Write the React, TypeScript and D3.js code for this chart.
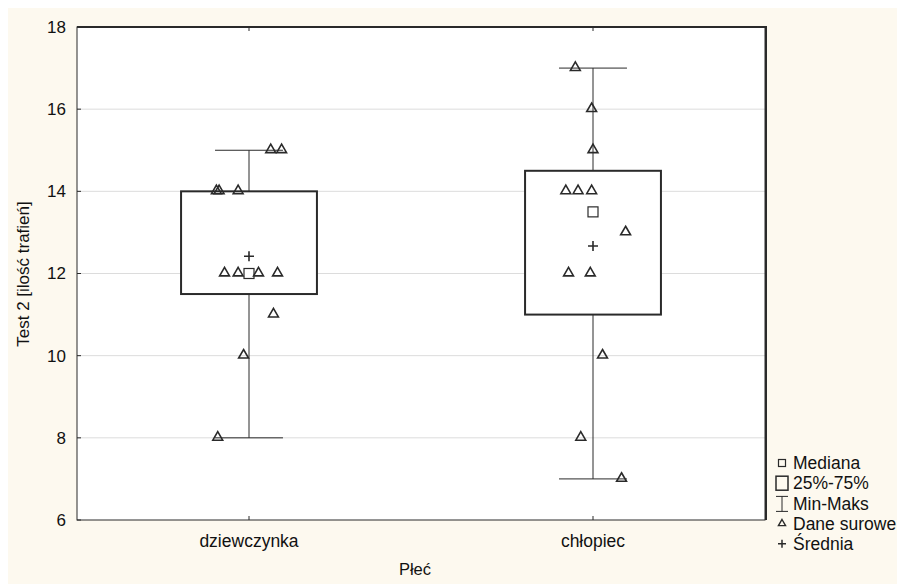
import * as d3 from 'd3';
import React, { useEffect, useRef } from 'react';

interface RawPoint {
  group: string;
  value: number;
  jitter: number;
}

interface GroupStats {
  group: string;
  min: number;
  q1: number;
  median: number;
  q3: number;
  max: number;
  mean: number;
}

const groups = ['dziewczynka', 'chłopiec'];

const girlValues = [15, 15, 14, 14, 14, 12, 12, 12, 12, 11, 10, 8];
const girlJitter = [0.16, 0.24, -0.24, -0.22, -0.08, -0.18, -0.08, 0.07, 0.21, 0.18, -0.04, -0.23];

const boyValues = [17, 16, 15, 14, 14, 14, 13, 12, 12, 10, 8, 7];
const boyJitter = [-0.13, -0.01, 0.0, -0.2, -0.11, -0.01, 0.24, -0.18, -0.02, 0.07, -0.09, 0.21];

const stats: GroupStats[] = [
  { group: 'dziewczynka', min: 8, q1: 11.5, median: 12, q3: 14, max: 15, mean: 12.42 },
  { group: 'chłopiec', min: 7, q1: 11, median: 13.5, q3: 14.5, max: 17, mean: 12.67 },
];

const yTicks = [6, 8, 10, 12, 14, 16, 18];
const legendLabels = ['Mediana', '25%-75%', 'Min-Maks', 'Dane surowe', 'Średnia'];

const width = 897;
const height = 576;
const margin = { top: 19, right: 140, bottom: 64, left: 69 };
const font = '"Liberation Sans", Arial, sans-serif';
const ink = '#2a2a2a';

const BoxPlot: React.FC = () => {
  const ref = useRef<SVGSVGElement>(null);

  useEffect(() => {
    if (!ref.current) return;
    const svg = d3.select(ref.current);
    svg.selectAll('*').remove();

    const raw: RawPoint[] = [
      ...girlValues.map((v, i) => ({ group: groups[0], value: v, jitter: girlJitter[i] })),
      ...boyValues.map((v, i) => ({ group: groups[1], value: v, jitter: boyJitter[i] })),
    ];

    const x0 = margin.left;
    const x1 = width - margin.right;
    const yTop = margin.top;
    const yBot = height - margin.bottom;

    const x = d3.scalePoint<string>().domain(groups).range([x0, x1]).padding(0.5);
    const y = d3.scaleLinear().domain([6, 18]).range([yBot, yTop]);
    const boxW = x.step() * 0.395;
    const capW = boxW / 2;

    svg.append('rect').attr('width', width).attr('height', height).attr('fill', '#fdf9ef');
    svg
      .append('rect')
      .attr('x', x0)
      .attr('y', yTop)
      .attr('width', x1 - x0)
      .attr('height', yBot - yTop)
      .attr('fill', '#ffffff');

    // gridlines
    svg
      .append('g')
      .selectAll('line')
      .data(yTicks.slice(1, -1))
      .join('line')
      .attr('x1', x0)
      .attr('x2', x1)
      .attr('y1', (d) => y(d))
      .attr('y2', (d) => y(d))
      .attr('stroke', '#dcdcdc')
      .attr('stroke-width', 1);

    // boxes and whiskers
    const g = svg.append('g');
    stats.forEach((s) => {
      const cx = x(s.group)!;
      g.append('line')
        .attr('x1', cx)
        .attr('x2', cx)
        .attr('y1', y(s.max))
        .attr('y2', y(s.min))
        .attr('stroke', ink)
        .attr('stroke-width', 1);
      [s.min, s.max].forEach((v) => {
        g.append('line')
          .attr('x1', cx - capW / 2)
          .attr('x2', cx + capW / 2)
          .attr('y1', y(v))
          .attr('y2', y(v))
          .attr('stroke', ink)
          .attr('stroke-width', 1);
      });
      g.append('rect')
        .attr('x', cx - boxW / 2)
        .attr('y', y(s.q3))
        .attr('width', boxW)
        .attr('height', y(s.q1) - y(s.q3))
        .attr('fill', '#ffffff')
        .attr('stroke', ink)
        .attr('stroke-width', 2);
    });

    // raw data triangles
    const tri = d3.symbol().type(d3.symbolTriangle).size(42);
    svg
      .append('g')
      .selectAll('path')
      .data(raw)
      .join('path')
      .attr('d', tri)
      .attr('transform', (d) => `translate(${x(d.group)! + d.jitter * boxW},${y(d.value) - 0.5})`)
      .attr('fill', 'none')
      .attr('stroke', ink)
      .attr('stroke-width', 1.6);

    // medians and means
    stats.forEach((s) => {
      const cx = x(s.group)!;
      g.append('rect')
        .attr('x', cx - 5)
        .attr('y', y(s.median) - 5)
        .attr('width', 10)
        .attr('height', 10)
        .attr('fill', '#ffffff')
        .attr('stroke', ink)
        .attr('stroke-width', 1.2);
      g.append('path')
        .attr('d', `M${cx - 5},${y(s.mean)}H${cx + 5}M${cx},${y(s.mean) - 5}V${y(s.mean) + 5}`)
        .attr('stroke', ink)
        .attr('stroke-width', 1.6);
    });

    // frame
    svg
      .append('rect')
      .attr('x', x0)
      .attr('y', yTop)
      .attr('width', x1 - x0)
      .attr('height', yBot - yTop)
      .attr('fill', 'none')
      .attr('stroke', ink)
      .attr('stroke-width', 1);
    svg
      .append('path')
      .attr('d', `M${x0},${yTop}H${x1 + 1}V${yBot}`)
      .attr('fill', 'none')
      .attr('stroke', ink)
      .attr('stroke-width', 2);

    // y axis ticks (inward)
    const yAxis = svg.append('g');
    yAxis
      .selectAll('line.tk')
      .data(yTicks)
      .join('line')
      .attr('class', 'tk')
      .attr('x1', x0)
      .attr('x2', x0 + 4)
      .attr('y1', (d) => y(d))
      .attr('y2', (d) => y(d))
      .attr('stroke', ink);
    yAxis
      .selectAll('text')
      .data(yTicks)
      .join('text')
      .attr('x', x0 - 11)
      .attr('y', (d) => y(d))
      .attr('dy', '0.35em')
      .attr('text-anchor', 'end')
      .attr('font-family', font)
      .attr('font-size', 17)
      .attr('fill', '#111')
      .text((d) => d);

    // x ticks (top and bottom, inward)
    const xAxis = svg.append('g');
    groups.forEach((gName) => {
      const cx = x(gName)!;
      xAxis.append('line').attr('x1', cx).attr('x2', cx).attr('y1', yTop).attr('y2', yTop + 4).attr('stroke', ink);
      xAxis.append('line').attr('x1', cx).attr('x2', cx).attr('y1', yBot).attr('y2', yBot - 4).attr('stroke', ink);
    });
    xAxis
      .selectAll('text')
      .data(groups)
      .join('text')
      .attr('x', (d) => x(d)!)
      .attr('y', yBot + 27)
      .attr('text-anchor', 'middle')
      .attr('font-family', font)
      .attr('font-size', 17.5)
      .attr('fill', '#111')
      .text((d) => d);

    // axis titles
    svg
      .append('text')
      .attr('transform', `translate(${21},${266}) rotate(-90)`)
      .attr('text-anchor', 'middle')
      .attr('font-family', font)
      .attr('font-size', 17)
      .attr('fill', '#111')
      .text('Test 2 [ilość trafień]');
    svg
      .append('text')
      .attr('x', (x0 + x1) / 2 - 6)
      .attr('y', yBot + 55)
      .attr('text-anchor', 'middle')
      .attr('font-family', font)
      .attr('font-size', 16.5)
      .attr('fill', '#111')
      .text('Płeć');

    // legend
    const lg = svg.append('g').attr('transform', `translate(${x1 + 17},${455})`);
    const rowH = 20.2;
    legendLabels.forEach((label, i) => {
      const ly = i * rowH;
      const sym = lg.append('g').attr('transform', `translate(0,${ly})`);
      if (i === 0) {
        sym.append('rect').attr('x', -3.5).attr('y', -3.5).attr('width', 7).attr('height', 7)
          .attr('fill', 'none').attr('stroke', ink).attr('stroke-width', 1.2);
      } else if (i === 1) {
        sym.append('rect').attr('x', -6).attr('y', -7).attr('width', 12).attr('height', 14)
          .attr('fill', 'none').attr('stroke', ink).attr('stroke-width', 1.5);
      } else if (i === 2) {
        sym.append('path').attr('d', 'M-6,-7H6M0,-7V8M-6,8H6').attr('fill', 'none').attr('stroke', ink);
      } else if (i === 3) {
        sym.append('path').attr('d', d3.symbol().type(d3.symbolTriangle).size(22)())
          .attr('fill', 'none').attr('stroke', ink).attr('stroke-width', 1.4);
      } else {
        sym.append('path').attr('d', 'M-4,0H4M0,-4V4').attr('stroke', ink).attr('stroke-width', 1.5);
      }
      lg.append('text')
        .attr('x', 11)
        .attr('y', ly)
        .attr('dy', '0.35em')
        .attr('font-family', font)
        .attr('font-size', 17.5)
        .attr('fill', '#111')
        .text(label);
    });
  }, []);

  return <svg ref={ref} width={width} height={height} viewBox={`0 0 ${width} ${height}`} style={{ display: 'block' }} />;
};

export default function App() {
  return <BoxPlot />;
}
